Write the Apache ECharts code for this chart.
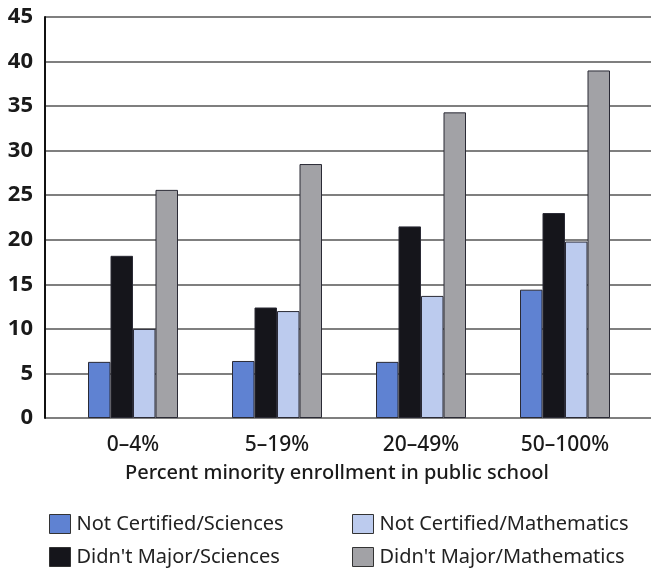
<!DOCTYPE html>
<html>
<head>
<meta charset="utf-8">
<script src="https://cdn.jsdelivr.net/npm/echarts@6/dist/echarts.min.js"></script>
<style>html,body{margin:0;padding:0;background:#fff;}#c{width:651px;height:571px;}</style>
</head>
<body>
<div id="c"></div>
<script>
const categories = ['0–4%', '5–19%', '20–49%', '50–100%'];
const seriesNames = ['Not Certified/Sciences', "Didn't Major/Sciences", 'Not Certified/Mathematics', "Didn't Major/Mathematics"];
const notCertSci = [6.3, 6.4, 6.3, 14.4];
const didntMajorSci = [18.2, 12.4, 21.5, 23.0];
const notCertMath = [10.0, 12.0, 13.7, 19.8];
const didntMajorMath = [25.6, 28.5, 34.3, 39.0];
const yTicks = [0, 5, 10, 15, 20, 25, 30, 35, 40, 45];
const xTitle = 'Percent minority enrollment in public school';

const colors = ['#5f82d2', '#15151b', '#bccbee', '#a2a2a6'];
const values = [notCertSci, didntMajorSci, notCertMath, didntMajorMath];
const FONT = 'Noto Sans';

const chart = echarts.init(document.getElementById('c'), null, {renderer: 'canvas'});
const yMin = yTicks[0], yMax = yTicks[yTicks.length - 1], yInt = yTicks[1] - yTicks[0];

const legendPos = [[49, 514], [49, 547], [352, 514], [352, 547]];
const legends = seriesNames.map((name, i) => ({
  orient: 'horizontal', left: legendPos[i][0], top: legendPos[i][1],
  itemWidth: 21, itemHeight: 19, padding: 0,
  data: [name], icon: 'rect', selectedMode: false,
  itemStyle: {borderColor: '#333', borderWidth: 1},
  textStyle: {color: '#222', fontFamily: FONT, fontSize: 20, padding: [0, 0, 0, 1]}
}));

const option = {
  animation: false,
  backgroundColor: '#fff',
  grid: [
    {left: 45, right: 0, top: 17, bottom: 153, containLabel: false},
    {left: 61, right: 14, top: 17, bottom: 153, containLabel: false}
  ],
  xAxis: [
    {gridIndex: 0, type: 'value', min: 0, max: 1, show: false},
    {
      gridIndex: 1, type: 'category', data: categories,
      axisLine: {show: false}, axisTick: {show: false},
      axisLabel: {color: '#1a1a1a', fontFamily: FONT, fontSize: 21, fontWeight: 500, margin: 17}
    }
  ],
  yAxis: [
    {
      gridIndex: 0, type: 'value', min: yMin, max: yMax, interval: yInt,
      axisLine: {show: true, lineStyle: {color: '#111', width: 2}},
      axisTick: {show: false},
      axisLabel: {color: '#1a1a1a', fontFamily: FONT, fontSize: 22, fontWeight: 'bold', margin: 12},
      splitLine: {show: true, lineStyle: {color: '#555', width: 1.5}}
    },
    {
      gridIndex: 1, type: 'value', min: yMin, max: yMax, interval: yInt,
      show: false, splitLine: {show: false}
    }
  ],
  legend: legends,
  graphic: [
    {
      type: 'text', x: 337, y: 473,
      style: {text: xTitle, fill: '#1a1a1a', font: '500 20px "' + FONT + '"', align: 'center', verticalAlign: 'middle'}
    }
  ],
  series: seriesNames.map((name, i) => ({
    name: name,
    type: 'bar',
    xAxisIndex: 1, yAxisIndex: 1,
    data: values[i],
    barGap: '0%',
    barCategoryGap: '37.5%',
    itemStyle: {color: colors[i], borderColor: '#2a2a35', borderWidth: 1}
  }))
};
chart.setOption(option);
</script>
</body>
</html>
